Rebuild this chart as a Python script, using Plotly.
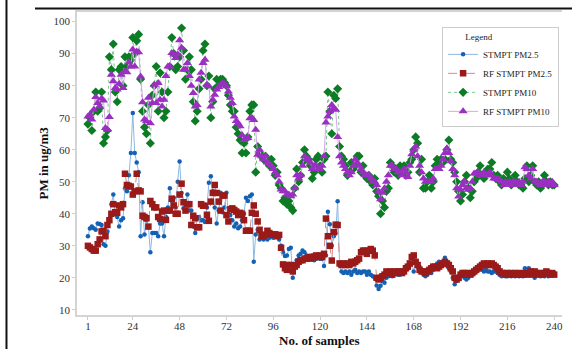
import plotly.graph_objects as go

samples = list(range(1, 241))
x_tick_vals = [1, 24, 48, 72, 96, 120, 144, 168, 192, 216, 240]
y_tick_vals = [10, 20, 30, 40, 50, 60, 70, 80, 90, 100]

stmpt_pm25 = [
    33, 35.4, 36, 35.5, 35, 37, 36.8, 36.5, 30.5, 30,
    34.5, 38, 43, 46, 40, 39, 36, 38, 38.6, 48,
    47, 52, 59, 71.5, 59, 56, 53, 33, 43.6, 33.5,
    38, 36, 28, 34, 34, 34, 33, 37, 37, 33,
    39, 42, 48, 44, 45, 42, 50, 56.3, 46.5, 41.7,
    43, 46, 41, 41, 36, 34, 38.5, 39, 38, 38,
    37.4, 42, 49.7, 51.7, 47, 42, 37, 41, 46.6, 40.5,
    42, 46.6, 40, 39.6, 38, 36, 37, 35.5, 36, 38,
    40, 45, 44, 45.5, 46, 25, 33.5, 35, 32, 33,
    32, 32.5, 32, 32.5, 33, 32.5, 33, 33, 32, 30,
    28, 26.8, 27, 29, 29.4, 20, 24, 25.5, 27, 27.5,
    28.5, 28, 27, 26.5, 26, 27, 25.5, 26, 26.5, 26,
    26, 23.7, 27, 40.6, 36.7, 30, 33, 33.9, 43.9, 24,
    22, 21.5, 22, 21.5, 22, 21, 22, 22.5, 21.5, 22,
    21.5, 22, 22, 21, 22, 21, 20.5, 20, 17.6, 16.5,
    17.5, 19, 18.5, 20, 20.5, 21.5, 20.5, 21.5, 22, 21,
    21, 21.5, 22, 22.5, 23, 24, 24.5, 22, 25, 23.5,
    23.5, 22.5, 21, 20.5, 21, 22, 21.5, 22.5, 23, 24.5,
    25, 24.5, 25, 26.3, 24.5, 23, 22, 20, 18, 19,
    20, 20.5, 21, 20, 19.5, 20, 21, 21, 21.5, 22,
    22.5, 23, 22.5, 22, 22.5, 22, 22, 21.5, 22, 22,
    21.5, 21, 20.5, 21, 20.5, 20.5, 21, 20.5, 21, 20.5,
    21, 20.5, 21, 20.5, 23, 21, 23, 21.5, 21, 20,
    21.5, 21, 20.5, 21, 20.5, 21, 20.5, 21, 21, 21.5,
]

rf_stmpt_pm25 = [
    30, 29.5, 29, 28.5, 28.5, 30.5, 32, 34.5, 34.7, 33,
    36.5, 38, 40, 43, 40.5, 40.3, 42.6, 42, 43, 52.5,
    49, 48.7, 48.5, 46, 47, 52.5, 47.3, 47, 39.4, 39,
    38.6, 36, 44, 43, 42, 42, 39, 38.4, 40.7, 41,
    38.1, 41, 41, 44.7, 42.6, 40, 40, 46, 49.4, 43.6,
    41, 43, 43, 36.5, 39.4, 38.6, 35.8, 35.8, 43, 42.5,
    42.5, 39.7, 37.8, 43.8, 46.5, 49, 46.5, 43.8, 41, 45.7,
    45.7, 39.6, 37.6, 41.4, 41.7, 41.2, 40.7, 39.6, 40.3, 40,
    38, 34.7, 34.7, 34.7, 40.3, 42.6, 40, 37.6, 35, 33,
    33, 33.5, 34.7, 34, 33.6, 33.6, 33.6, 33, 33.4, 29.4,
    24.2, 23, 22.5, 24, 24, 22, 23.5, 24, 25, 25.5,
    25.5, 26, 26, 26.5, 26, 26.5, 26.5, 27, 26.5, 27,
    26.5, 27.5, 38.5, 33, 30, 25.4, 34.3, 36.6, 36.5, 24.5,
    24, 24.5, 24, 24.5, 24, 25, 24.5, 25, 25.5, 26,
    28, 28.5, 28.5, 27.5, 28.5, 29, 28.5, 27, 20, 19.5,
    20, 20.5, 21, 22, 21.5, 22, 21, 22, 21.5, 22,
    22, 21.5, 22, 23, 23.5, 24.5, 26.5, 27, 25, 24,
    22.5, 22, 22, 21.5, 22, 22.5, 23, 23.5, 23.5, 23,
    23.5, 24, 24.5, 25, 24.5, 24, 23, 22, 20, 19.5,
    20, 21, 21.5, 21.5, 21, 21.5, 21, 21.5, 22, 22.5,
    23, 23.5, 24, 24.5, 24, 24.5, 24, 24.5, 24, 23.5,
    23, 22, 21.5, 21.5, 21, 21.5, 21, 21.5, 21, 21.5,
    21, 21.5, 21, 21, 21.5, 21, 21.5, 22, 21, 22,
    21.5, 21, 21.5, 21, 21.5, 22, 21.5, 21, 21.5, 21,
]

stmpt_pm10 = [
    68, 70, 66, 72, 78, 72, 73, 78, 62, 64,
    66, 89, 85, 93, 78, 75, 85, 86, 80, 89,
    86, 89, 88, 95, 90, 94, 96, 82, 72, 67,
    65, 74, 62, 77, 80, 86, 72, 84, 78, 70,
    72, 78, 86, 95, 90, 85, 86, 89, 98, 91,
    82, 85, 89, 85, 75, 69, 72, 79, 82, 91,
    93, 80, 83, 70, 75, 79, 82, 80, 82, 82,
    81, 80, 77, 74, 72, 72, 67, 65, 63, 59,
    62, 59, 64, 72, 74, 74, 53, 61, 59, 58,
    57, 58, 56, 55, 57, 55, 52, 53, 49, 48,
    44, 45, 43, 44, 42, 41, 48, 54, 50, 52,
    56, 60, 58, 57, 55, 51, 53, 57, 58, 55,
    53, 57, 58, 78, 72, 65, 77, 76, 79, 61,
    58, 57, 55, 52, 53, 56, 54, 55, 58, 58,
    53, 55, 52, 51, 52, 50, 49, 51, 47, 45.5,
    40, 44, 42, 47, 48, 56, 55, 53, 54, 52,
    55, 54, 55, 52, 53, 56, 57, 60, 64, 62,
    53, 57, 48, 48, 50, 52, 48, 50, 55, 57,
    55, 57, 56, 57, 60, 63, 57, 56, 53, 50,
    47, 44, 46, 50, 52, 48, 45, 47, 50, 51,
    53, 55, 52, 51, 53, 54, 54, 56, 52, 51,
    52, 50, 49, 51, 50, 53, 51, 49, 50, 52,
    50, 49, 49, 48, 51, 55, 50, 52, 55, 50,
    49, 50, 48, 49, 52, 50, 49, 50, 49, 49,
]

rf_stmpt_pm10 = [
    70.4, 71, 69.4, 72.5, 76.5, 74.6, 73.5, 76, 75.4, 66.8,
    66.3, 70.2, 83.4, 81.4, 79.3, 78.8, 80.6, 83.4, 79.3, 84.5,
    84.2, 87.3, 86, 91.3, 86, 90.7, 90.4, 82.9, 74.8, 69.4,
    68.9, 76.2, 68.3, 74.6, 80.3, 74.6, 80.8, 75.6, 73.5, 75.6,
    83, 86, 86, 90.2, 89.7, 88.6, 89.7, 94.2, 91.8, 85,
    85, 87.1, 83, 80, 77.7, 73.5, 74, 81.9, 84, 87.1,
    88.1, 80.3, 79.8, 73.5, 75.6, 77.2, 78.8, 79.6, 80.3, 80.8,
    80.5, 79.8, 78.2, 76.2, 74.6, 70.4, 69, 68.3, 67.3, 64.6,
    63, 63.5, 63.7, 69.8, 70, 69.3, 66.2, 58.4, 60, 58,
    57, 58, 56, 55.6, 55, 54, 53, 52, 50, 47.6,
    47, 47, 46, 46, 45.5, 46, 48, 52, 51, 52,
    55, 58, 57, 57, 56, 54, 55, 55, 54, 54,
    55, 58, 68.5, 70.4, 72, 74, 73, 72.5, 64, 58,
    56, 55, 54, 53, 52, 53, 55, 57, 56, 55,
    54, 53, 52, 52, 52, 51, 50, 50, 49, 47,
    44.5, 46.6, 48, 50, 52, 55, 55, 54, 54, 53,
    53, 52, 54, 53, 51.5, 55, 58.6, 60, 61, 58,
    55, 53, 51, 50, 50, 50, 50, 51, 54, 54,
    54, 55, 57, 59, 60.5, 59, 56.4, 54, 52, 48,
    45.4, 47.5, 49, 50, 48, 47.5, 48, 50, 52.6, 52.6,
    53, 52, 52, 53, 52, 52, 53, 52, 51, 51,
    51, 50.5, 50, 49, 50, 49.5, 50, 49, 50, 50,
    49, 50, 49, 50, 54.5, 54, 52, 51, 54, 50,
    50, 49.5, 49, 50, 50, 49, 50, 49.5, 50, 49,
]

SERIF = "Liberation Serif"

fig = go.Figure()
fig.add_trace(go.Scatter(
    x=samples, y=stmpt_pm25, name="STMPT PM2.5", mode="lines+markers",
    line=dict(color="#8cb8e4", width=1),
    marker=dict(symbol="circle", size=4.5, color="#1461b4"),
))
fig.add_trace(go.Scatter(
    x=samples, y=rf_stmpt_pm25, name="RF STMPT PM2.5", mode="lines+markers",
    line=dict(color="#d48a8a", width=1, dash="dash"),
    marker=dict(symbol="square", size=6.5, color="#9a1a1a"),
))
fig.add_trace(go.Scatter(
    x=samples, y=stmpt_pm10, name="STMPT PM10", mode="lines+markers",
    line=dict(color="#7cc48c", width=1, dash="dot"),
    marker=dict(symbol="diamond", size=7, color="#0c7c24"),
))
fig.add_trace(go.Scatter(
    x=samples, y=rf_stmpt_pm10, name="RF STMPT PM10", mode="lines+markers",
    line=dict(color="#d6a6ea", width=1),
    marker=dict(symbol="triangle-up", size=8, color="#9a2fc2"),
))

axis_common = dict(
    showgrid=False, zeroline=False, showline=True, linecolor="#d4d4d4", linewidth=1.5,
    ticks="outside", ticklen=3, tickcolor="#cccccc", tickwidth=1,
    tickfont=dict(family=SERIF, size=11, color="#333333"),
)

fig.update_layout(
    width=572, height=349,
    margin=dict(l=77, r=10, t=12, b=34),
    paper_bgcolor="white", plot_bgcolor="white",
    template="none",
    font=dict(family=SERIF, color="#222222"),
    xaxis=dict(**axis_common, range=[-4.6, 244], tickvals=x_tick_vals, mirror=True,
               ticklabelstandoff=-3),
    yaxis=dict(**axis_common, range=[8.4, 103], tickvals=y_tick_vals),
    showlegend=True,
    legend=dict(
        x=0.994, xanchor="right", y=0.95, yanchor="top",
        bgcolor="white", bordercolor="#cccccc", borderwidth=1,
        font=dict(family=SERIF, size=9, color="#222222"),
        title=dict(text="\u00a0" * 9 + "Legend", font=dict(family=SERIF, size=9, color="#222222")),
        tracegroupgap=0,
    ),
    annotations=[
        dict(text="<b>PM in ug/m3</b>", xref="paper", yref="paper", x=0, y=0.5,
             xanchor="center", yanchor="middle", xshift=-34, textangle=-90, showarrow=False,
             font=dict(family=SERIF, size=13, color="#111111")),
        dict(text="<b>No. of samples</b>", xref="paper", yref="paper", x=0.5, y=0,
             xanchor="center", yanchor="middle", yshift=-25, showarrow=False,
             font=dict(family=SERIF, size=13, color="#111111")),
    ],
    shapes=[
        dict(type="line", xref="paper", yref="paper", x0=-0.1454, x1=-0.1454, y0=-0.12, y1=1.05,
             line=dict(color="#111111", width=2)),
        dict(type="line", xref="paper", yref="paper", x0=-0.0866, x1=1.03, y0=1.0116, y1=1.0116,
             line=dict(color="#111111", width=2)),
    ],
)

fig.write_html("out.html")
